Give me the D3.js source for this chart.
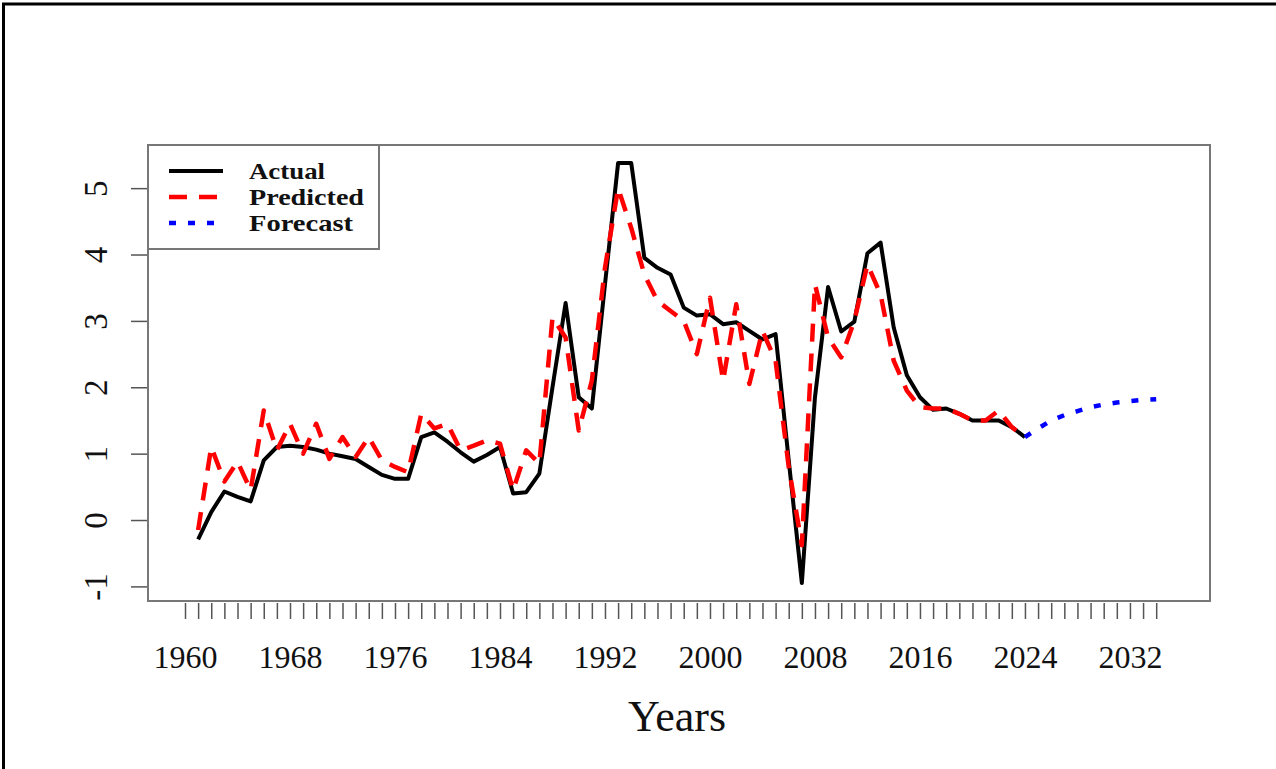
<!DOCTYPE html>
<html>
<head>
<meta charset="utf-8">
<script src="https://cdn.jsdelivr.net/npm/d3@7"></script>
<style>
  html, body { margin: 0; padding: 0; background: #fff; }
  svg { display: block; }
  text { font-family: "Liberation Serif", "Times New Roman", serif; fill: #111; }
</style>
</head>
<body>
<svg id="chart" width="1276" height="769"></svg>
<script>
// Observed series (1961-2024), fitted values and forecast (2024-2034)
const actualYears = d3.range(1961, 2025);
const actualValues = [
  -0.29, 0.12, 0.43, 0.35, 0.28, 0.90, 1.10, 1.12, 1.10, 1.06,
   1.00, 0.96, 0.92, 0.80, 0.68, 0.62, 0.62, 1.25, 1.32, 1.18,
   1.02, 0.88, 0.98, 1.10, 0.40, 0.42, 0.70, 2.00, 3.27, 1.85,
   1.68, 3.55, 5.38, 5.38, 3.95, 3.80, 3.70, 3.20, 3.08, 3.10,
   2.95, 2.98, 2.85, 2.72, 2.80, 0.90, -0.95, 1.85, 3.51, 2.84,
   2.99, 4.02, 4.18, 2.90, 2.18, 1.85, 1.66, 1.68, 1.60, 1.50,
   1.50, 1.50, 1.40, 1.25
];
const predictedValues = [
  -0.15, 1.10, 0.58, 0.88, 0.45, 1.65, 1.05, 1.45, 1.00, 1.45,
   0.92, 1.25, 0.95, 1.25, 0.90, 0.80, 0.72, 1.60, 1.38, 1.45,
   1.05, 1.12, 1.20, 1.15, 0.45, 1.05, 0.85, 3.05, 2.75, 1.35,
   2.10, 3.80, 5.00, 4.40, 3.70, 3.30, 3.15, 3.00, 2.50, 3.35,
   2.10, 3.25, 2.05, 2.85, 2.40, 0.80, -0.38, 3.55, 2.75, 2.45,
   3.00, 3.85, 3.40, 2.40, 1.95, 1.70, 1.68, 1.68, 1.60, 1.50,
   1.50, 1.65, 1.40, 1.25
];
const forecastYears = d3.range(2024, 2035);
const forecastValues = [1.25, 1.38, 1.50, 1.58, 1.64, 1.70, 1.74, 1.77, 1.79, 1.81, 1.82];

const xTickYears = d3.range(1960, 2035);
const xLabelYears = d3.range(1960, 2033, 8);
const yTicks = [-1, 0, 1, 2, 3, 4, 5];
const legendLabels = ["Actual", "Predicted", "Forecast"];

const svg = d3.select("#chart");
const plot = { left: 148, right: 1210, top: 145, bottom: 601 };

svg.append("rect").attr("width", 1276).attr("height", 769).attr("fill", "#fff");

// outer frame (top and left edges)
svg.append("line").attr("x1", 2).attr("x2", 1276).attr("y1", 4).attr("y2", 4)
  .attr("stroke", "#000").attr("stroke-width", 3);
svg.append("line").attr("x1", 3.5).attr("x2", 3.5).attr("y1", 3).attr("y2", 769)
  .attr("stroke", "#000").attr("stroke-width", 3);

const x = d3.scaleLinear().domain([1957.18, 2038.1]).range([plot.left, plot.right]);
const y = d3.scaleLinear().domain([-1.22, 5.65]).range([plot.bottom, plot.top]);

// x axis: a tick every year, labels every 8 years
const xAxis = d3.axisBottom(x)
  .tickValues(xTickYears)
  .tickSize(16)
  .tickPadding(26)
  .tickFormat(d => (xLabelYears.includes(d) ? String(d) : ""));
const gx = svg.append("g").attr("transform", `translate(0,${plot.bottom + 2})`).call(xAxis);
gx.select(".domain").remove();
gx.selectAll(".tick line").attr("stroke", "#555").attr("stroke-width", 1.5);
gx.selectAll(".tick text")
  .style("font-family", '"Liberation Serif", serif')
  .style("font-size", "32px")
  .attr("fill", "#111");

// y axis with rotated labels (plain hyphen for the minus sign)
const yAxis = d3.axisLeft(y).tickValues(yTicks).tickSize(16).tickFormat(d => String(d));
const gy = svg.append("g").attr("transform", `translate(${plot.left - 1},0)`).call(yAxis);
gy.select(".domain").remove();
gy.selectAll(".tick line").attr("stroke", "#555").attr("stroke-width", 1.5);
gy.selectAll(".tick text")
  .attr("x", null).attr("dy", null)
  .attr("text-anchor", "middle")
  .attr("transform", "translate(-40,0) rotate(-90)")
  .style("font-family", '"Liberation Serif", serif')
  .style("font-size", "33px")
  .attr("fill", "#111");

// axis title
svg.append("text")
  .attr("x", (plot.left + plot.right) / 2 - 2)
  .attr("y", 731)
  .attr("text-anchor", "middle")
  .style("font-size", "44px")
  .text("Years");

// plot box
svg.append("rect")
  .attr("x", plot.left).attr("y", plot.top)
  .attr("width", plot.right - plot.left).attr("height", plot.bottom - plot.top)
  .attr("fill", "none").attr("stroke", "#777").attr("stroke-width", 2);

const line = d3.line().x(d => x(d[0])).y(d => y(d[1]));

const actual = actualYears.map((yr, i) => [yr, actualValues[i]]);
const predicted = actualYears.map((yr, i) => [yr, predictedValues[i]]);
const forecast = forecastYears.map((yr, i) => [yr, forecastValues[i]]);

const styles = {
  Actual:    { color: "#000000", dash: null,    width: 4 },
  Predicted: { color: "#ff0000", dash: "18,12", width: 4.5 },
  Forecast:  { color: "#0000ff", dash: "7,12",  width: 4.5 }
};

svg.append("path").datum(actual)
  .attr("d", line).attr("fill", "none")
  .attr("stroke", styles.Actual.color).attr("stroke-width", styles.Actual.width)
  .attr("stroke-linejoin", "round");

svg.append("path").datum(predicted)
  .attr("d", line).attr("fill", "none")
  .attr("stroke", styles.Predicted.color).attr("stroke-width", styles.Predicted.width)
  .attr("stroke-dasharray", styles.Predicted.dash)
  .attr("stroke-linejoin", "round");

svg.append("path").datum(forecast)
  .attr("d", line).attr("fill", "none")
  .attr("stroke", styles.Forecast.color).attr("stroke-width", styles.Forecast.width)
  .attr("stroke-dasharray", styles.Forecast.dash)
  .attr("stroke-linejoin", "round");

// legend
const legend = svg.append("g");
legend.append("rect")
  .attr("x", plot.left).attr("y", plot.top)
  .attr("width", 231).attr("height", 104)
  .attr("fill", "#fff").attr("stroke", "#777").attr("stroke-width", 2);

legendLabels.forEach((name, i) => {
  const cy = 171 + i * 26;
  const s = styles[name];
  legend.append("line")
    .attr("x1", 169).attr("x2", 223).attr("y1", cy).attr("y2", cy)
    .attr("stroke", s.color).attr("stroke-width", s.width)
    .attr("stroke-dasharray", s.dash);
  legend.append("text")
    .attr("x", 249).attr("y", cy + 8)
    .style("font-size", "24px").style("font-weight", "bold")
    .attr("textLength", [76, 115, 104][i])
    .attr("lengthAdjust", "spacingAndGlyphs")
    .text(name);
});
</script>
</body>
</html>
